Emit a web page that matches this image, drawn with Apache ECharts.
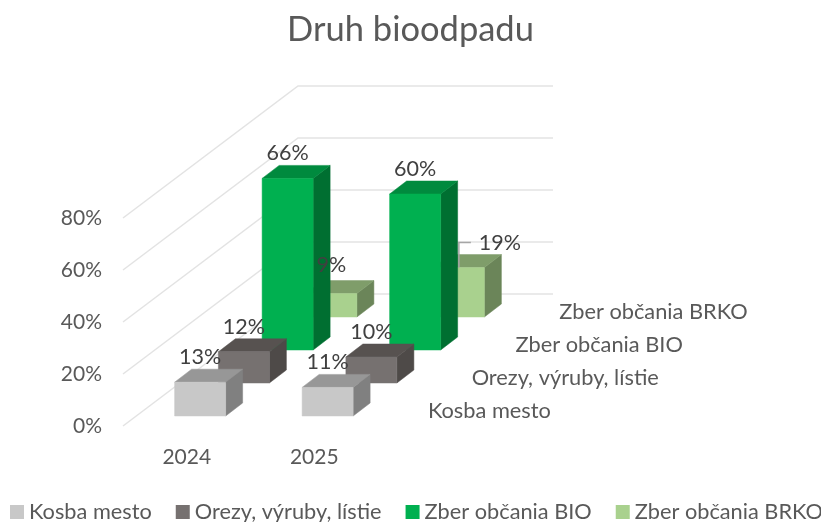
<!DOCTYPE html>
<html><head><meta charset="utf-8">
<style>html,body{margin:0;padding:0;background:#fff}#c{width:821px;height:522px}</style>
<script src="https://cdn.jsdelivr.net/npm/echarts@6/dist/echarts.min.js"></script>
</head><body><div id="c"></div>
<script>
const categories = ['2024', '2025'];
const seriesNames = ['Kosba mesto', 'Orezy, výruby, lístie', 'Zber občania BIO', 'Zber občania BRKO'];
const kosbaMesto = [13, 11];
const orezy = [12, 10];
const zberBio = [66, 60];
const zberBrko = [9, 19];
const yTicks = [0, 20, 40, 60, 80];

const allValues = [kosbaMesto, orezy, zberBio, zberBrko];
const faces = [
  {front:'#c8c8c8', top:'#979797', side:'#808080'},
  {front:'#767170', top:'#575250', side:'#4e4a48'},
  {front:'#00b050', top:'#008a3e', side:'#006f31'},
  {front:'#a9d18e', top:'#7f9d6a', side:'#6b8559'}
];
const FONT = 'Lato, Carlito, sans-serif';
const DEPTH_X = 175, DEPTH_Y = -132;           // floor depth vector
const CELL_X = DEPTH_X / 4, CELL_Y = DEPTH_Y / 4;
const BAR_W = 51, BAR_DX = 17, BAR_DY = -13;   // bar width and bar depth
const GAP_X = (CELL_X - BAR_DX) / 2, GAP_Y = (CELL_Y - BAR_DY) / 2;
const LABEL_ABOVE = 25;
const labelNudge = {'3:0':[0,-4], '3:1':[41,0]};

function barItem(si){
  return function(params, api){
    const ci = api.value(0), v = api.value(1);
    const base = api.coord([ci, 0]), topPt = api.coord([ci, v]);
    const x0 = base[0] - BAR_W/2 + si*CELL_X + GAP_X;
    const y0 = base[1] + si*CELL_Y + GAP_Y;
    const h = base[1] - topPt[1];
    const x1 = x0 + BAR_W, yt = y0 - h;
    const f = faces[si], z2 = 10*(4-si);
    const poly = (pts, fill) => ({type:'polygon', z2, shape:{points:pts},
      style:{fill, stroke:fill, lineWidth:0.5}});
    const kids = [
      poly([[x1,y0],[x1+BAR_DX,y0+BAR_DY],[x1+BAR_DX,yt+BAR_DY],[x1,yt]], f.side),
      poly([[x0,yt],[x1,yt],[x1+BAR_DX,yt+BAR_DY],[x0+BAR_DX,yt+BAR_DY]], f.top),
      poly([[x0,y0],[x1,y0],[x1,yt],[x0,yt]], f.front)
    ];
    const n = labelNudge[si+':'+ci] || [0,0];
    const lx = x0 + BAR_W/2 + n[0], ly = yt - LABEL_ABOVE + n[1];
    if (n[0] > 0) {
      kids.push({type:'polyline', z2:90,
        shape:{points:[[x0+BAR_W/2,yt],[x0+BAR_W/2,ly],[lx-29,ly]]},
        style:{fill:'none', stroke:'#a6a6a6', lineWidth:1.5}});
    }
    kids.push({type:'text', z2:100, style:{text:v+'%', x:lx, y:ly, align:'center',
      verticalAlign:'middle', fill:'#404040', font:'21.5px '+FONT}});
    if (params.dataIndex === 0) {
      const cs = params.coordSys;
      kids.push({type:'text', z2:100, style:{text:seriesNames[si],
        x:cs.x + cs.width + (si+0.5)*CELL_X + 28,
        y:cs.y + cs.height + (si+0.5)*CELL_Y + 1,
        align:'left', verticalAlign:'middle', fill:'#595959', font:'21.8px '+FONT}});
    }
    return {type:'group', children:kids};
  };
}

function wallItem(params, api){
  const t = api.value(1), p = api.coord([0, t]), cs = params.coordSys;
  const x = cs.x, bx = x + DEPTH_X, by = p[1] + DEPTH_Y;
  return {type:'polyline', z2:1, shape:{points:[[x,p[1]],[bx,by],[bx+cs.width,by]]},
    style:{fill:'none', stroke:'#e3e3e3', lineWidth:1.5}};
}

const chart = echarts.init(document.getElementById('c'), null, {renderer:'canvas'});
chart.setOption({
  animation:false,
  backgroundColor:'#fff',
  title:{text:'Druh bioodpadu', left:'center', top:7,
    textStyle:{color:'#595959', fontFamily:FONT, fontWeight:'normal', fontSize:34.5}},
  legend:{data:seriesNames, top:501, left:10, width:900, padding:0, icon:'rect', itemWidth:14, itemHeight:14,
    itemGap:24, textStyle:{color:'#595959', fontFamily:FONT, fontSize:21.75}},
  grid:{left:123, top:218, width:255, height:208, containLabel:false},
  xAxis:{type:'category', data:categories, axisLine:{show:false}, axisTick:{show:false},
    splitLine:{show:false}, axisLabel:{color:'#595959', fontFamily:FONT, fontSize:21, margin:21}},
  yAxis:{type:'value', min:0, max:80, interval:20, axisLine:{show:false}, axisTick:{show:false},
    splitLine:{show:false}, axisLabel:{color:'#595959', fontFamily:FONT, fontSize:21, margin:21,
      formatter:'{value}%', verticalAlignMinLabel:'middle', verticalAlignMaxLabel:'middle'}},
  series:[
    {type:'custom', silent:true, renderItem:wallItem, data:yTicks.map(t=>[0,t]), encode:{x:0,y:1}},
    ...seriesNames.map((name,si)=>({
      type:'custom', name, silent:true, renderItem:barItem(si),
      itemStyle:{color:faces[si].front},
      encode:{x:0,y:1},
      data:allValues[si].map((v,ci)=>[ci,v])
    }))
  ]
});
</script></body></html>
